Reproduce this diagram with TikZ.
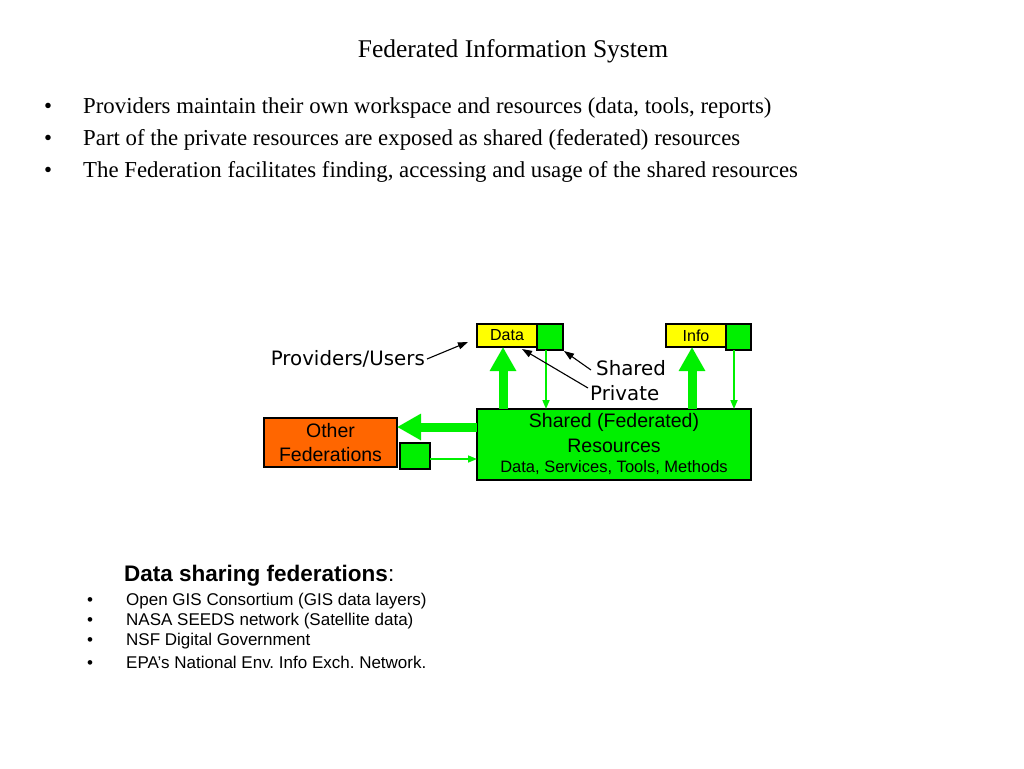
\documentclass[tikz,border=0pt]{standalone}
\usepackage{fontspec}
\setmainfont{Liberation Serif}
\newfontfamily\arialf{Liberation Sans}
\newfontfamily\dejaf{DejaVu Sans}
\usetikzlibrary{arrows.meta}
\definecolor{fedgreen}{RGB}{0,240,0}
\definecolor{fedorange}{RGB}{255,102,0}
\definecolor{fedyellow}{RGB}{255,255,0}
\tikzset{
  boxbase/.style={draw=black, line width=1.5pt, inner sep=0pt, outer sep=0pt},
  ybox/.style={boxbase, fill=fedyellow, font=\arialf\fontsize{16}{19}\selectfont},
  gsq/.style={boxbase, fill=fedgreen},
  bigarrow/.style={draw=fedgreen, line width=9pt, -{Triangle[width=25pt,length=24pt]}},
  thinarrow/.style={draw=fedgreen, line width=1.6pt, -{Triangle[width=7pt,length=9pt]}},
  blkarrow/.style={draw=black, line width=1.1pt, -{Triangle[width=7pt,length=10pt]}},
  lbl/.style={inner sep=0pt, font=\dejaf\fontsize{19.8}{23}\selectfont},
  toptext/.style={inner sep=0pt, anchor=base west, font=\fontsize{22.8}{27}\selectfont},
  bottext/.style={inner sep=0pt, anchor=base west, font=\arialf\fontsize{17}{20}\selectfont},
}
\frenchspacing
\begin{document}
\begin{tikzpicture}[x=1pt,y=-1pt]
\useasboundingbox[fill=white] (0,0) rectangle (1024,768);

% Title and top bullets
\node[inner sep=0pt, anchor=base, font=\fontsize{25.5}{30}\selectfont] (title) at (513,57) {Federated Information System};
\node[toptext] (b1) at (44,113) {•};
\node[toptext] (t1) at (83,113) {Providers maintain their own workspace and resources (data, tools, reports)};
\node[toptext] (b2) at (44,145) {•};
\node[toptext] (t2) at (83,145) {Part of the private resources are exposed as shared (federated) resources};
\node[toptext] (b3) at (44,177) {•};
\node[toptext] (t3) at (83,177) {The Federation facilitates finding, accessing and usage of the shared resources};

% Diagram boxes
\node[ybox, minimum width=60pt, minimum height=23pt] (data) at (507,335.5) {Data};
\node[gsq, minimum width=26pt, minimum height=26pt] (dsq) at (550,337) {};
\node[ybox, minimum width=60pt, minimum height=23pt] (info) at (696,335.5) {Info};
\node[gsq, minimum width=25pt, minimum height=26pt] (isq) at (738.5,337) {};
\node[gsq, minimum width=274pt, minimum height=71pt] (main) at (614,444.5) {};
\node[inner sep=0pt, font=\arialf\fontsize{19.5}{23}\selectfont] (m1) at (614,422) {Shared (Federated)};
\node[inner sep=0pt, font=\arialf\fontsize{19.5}{23}\selectfont] (m2) at (614,446) {Resources};
\node[inner sep=0pt, font=\arialf\fontsize{16.5}{20}\selectfont] (m3) at (614,468) {Data, Services, Tools, Methods};
\node[boxbase, fill=fedorange, minimum width=133pt, minimum height=49pt, align=center,
      font=\arialf\fontsize{19.5}{24}\selectfont] (other) at (330.5,442.5) {Other\\Federations};
\node[gsq, minimum width=30pt, minimum height=26pt] (osq) at (415,456) {};

% Green arrows
\draw[bigarrow] ([xshift=-4pt]data.south |- main.north) -- ([xshift=-4pt]data.south);
\draw[bigarrow] ([xshift=-4pt]info.south |- main.north) -- ([xshift=-4pt]info.south);
\draw[thinarrow] ([xshift=-4pt]dsq.south) -- ([xshift=-4pt]dsq.south |- main.north);
\draw[thinarrow] ([xshift=-4.5pt]isq.south) -- ([xshift=-4.5pt]isq.south |- main.north);
\coordinate (lt) at ([yshift=15.5pt]other.east);
\draw[bigarrow] (lt -| main.west) -- (lt);
\coordinate (rt) at ([yshift=-3pt]osq.east);
\draw[thinarrow] (rt) -- (rt -| main.west);

% Labels and black arrows
\node[lbl, anchor=east] (prov) at (425,359) {Providers/Users};
\node[lbl, anchor=west] (shared) at (596,368) {Shared};
\node[lbl, anchor=west] (private) at (590,393) {Private};
\coordinate (provtip) at ([shift={(-9pt,-6.5pt)}]data.west);
\draw[blkarrow] ([xshift=2pt]prov.east) -- (provtip);
\draw[blkarrow] ([shift={(-5pt,-2pt)}]shared.west) -- ([shift={(1pt,-1pt)}]dsq.south east);
\draw[blkarrow] ([shift={(-2pt,5pt)}]private.west) -- ([shift={(15pt,-2pt)}]data.south);

% Bottom list
\node[inner sep=0pt, anchor=base west, font=\arialf\fontsize{22.5}{26}\selectfont] (head) at (124,581) {\textbf{Data sharing federations}:};
\node[bottext] (c1) at (87,605) {•};
\node[bottext] (l1) at (126,605) {Open GIS Consortium (GIS data layers)};
\node[bottext] (c2) at (87,625.5) {•};
\node[bottext] (l2) at (126,625.5) {NASA SEEDS network (Satellite data)};
\node[bottext] (c3) at (87,645.5) {•};
\node[bottext] (l3) at (126,645.5) {NSF Digital Government};
\node[bottext] (c4) at (87,668) {•};
\node[bottext] (l4) at (126,668) {EPA’s National Env. Info Exch. Network.};
\end{tikzpicture}
\end{document}
